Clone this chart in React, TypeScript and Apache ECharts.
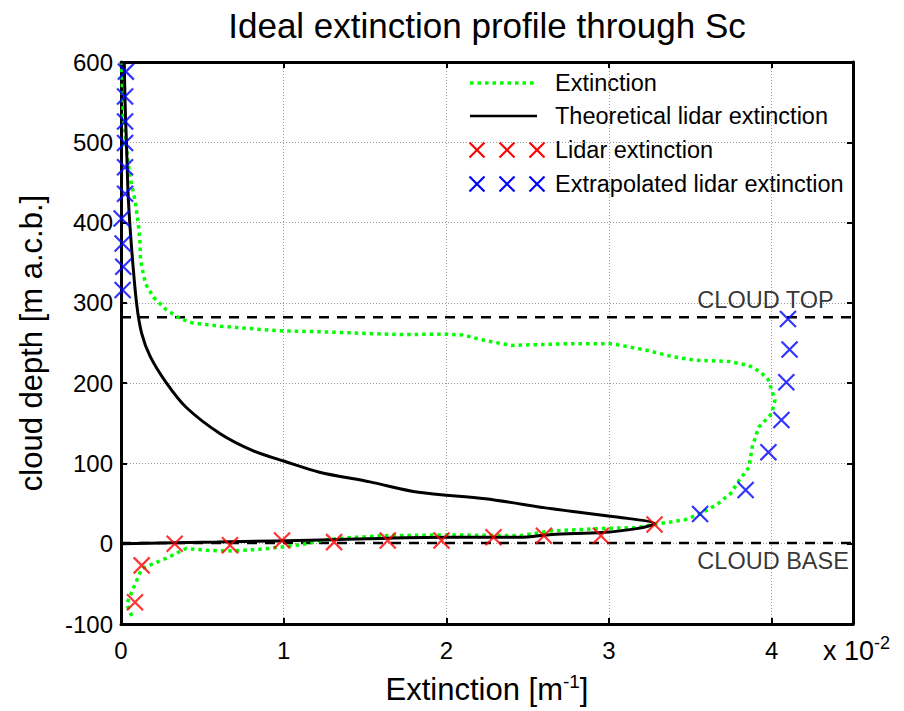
import React, { useEffect, useRef } from 'react';
import * as echarts from 'echarts';

// Extinction profile (x in 1e-2 m^-1, y in m above cloud base)
const extinctionX = [0.066, 0.035, 0.096, 0.127, 0.28, 0.40, 0.55, 0.69, 0.85, 0.99, 1.14, 1.26, 1.40, 1.61, 2.0, 2.45, 2.65, 2.96, 3.17, 3.28, 3.47, 3.57, 3.67, 3.75, 3.80, 3.86, 3.88, 3.92, 4.00, 4.02, 3.98, 3.93, 3.86, 3.74, 3.53, 3.39, 3.23, 3.02, 2.73, 2.40, 2.24, 2.10, 2.0, 1.71, 1.22, 1.0, 0.85, 0.61, 0.44, 0.37, 0.28, 0.20, 0.15, 0.12, 0.117, 0.106, 0.086, 0.055, 0.035, 0.014, 0.004];
const extinctionY = [-90, -75, -46, -31, -18, -6, -8.5, -9, -7, -4, 0, 5, 7.5, 10, 11, 10, 16, 19, 20, 24, 30, 38, 50, 63, 79, 95, 120, 145, 162, 179, 204, 214, 222, 227, 228.5, 233, 241, 249, 249, 247, 253, 260, 261, 260.5, 264, 265, 267, 271, 275, 280, 291, 307, 324, 353, 374, 399, 428, 457, 490, 532, 598];

// Theoretical lidar extinction
const theoryX = [0, 0.59, 1.30, 2.0, 2.45, 2.65, 2.96, 3.16, 3.28, 3.06, 2.65, 2.24, 1.83, 1.53, 1.22, 1.0, 0.81, 0.61, 0.40, 0.28, 0.18, 0.127, 0.096, 0.066, 0.045, 0.035, 0.025, 0.02];
const theoryY = [0, 2, 5, 8, 8, 11.5, 14, 18.5, 25, 33, 43.5, 56, 64, 77, 89, 103, 116, 137, 170, 200, 233, 262, 299, 366, 430, 490, 550, 600];

// Lidar extinction (red crosses)
const lidarX = [0.086, 0.127, 0.33, 0.67, 0.99, 1.31, 1.64, 1.97, 2.29, 2.60, 2.95, 3.28];
const lidarY = [-73, -27, 0, -2, 4, 2, 4, 4, 8, 10, 10, 24];

// Extrapolated lidar extinction (blue crosses)
const extrapX = [3.56, 3.84, 3.98, 4.06, 4.09, 4.11, 4.10, 0.03, 0.025, 0.025, 0.025, 0.025, 0.025, 0.004, 0.01, 0.014, 0.01];
const extrapY = [37, 67, 114, 154, 201, 242, 280, 588, 557, 526, 499, 469, 436, 405, 374, 345, 316];

const cloudTop = 282;
const cloudBase = 1;
const xMin = 0;
const xMax = 4.5;
const yMin = -100;
const yMax = 600;

const legendNames = ['Extinction', 'Theoretical lidar extinction', 'Lidar extinction', 'Extrapolated lidar extinction'];

const FONT = '"Liberation Sans", Arial, Helvetica, sans-serif';
const CROSS = 'path://M0,0L10,10M10,0L0,10';
const GREEN = '#00ff00';

const zip = (xs: number[], ys: number[]) => xs.map((x, i) => [x, ys[i]]);

function crossLines(cx: number, cy: number, color: string) {
  const h = 7.5;
  return [
    { type: 'line', shape: { x1: cx - h, y1: cy - h, x2: cx + h, y2: cy + h }, style: { stroke: color, lineWidth: 2.2 } },
    { type: 'line', shape: { x1: cx - h, y1: cy + h, x2: cx + h, y2: cy - h }, style: { stroke: color, lineWidth: 2.2 } },
  ];
}

export default function App() {
  const ref = useRef<HTMLDivElement>(null);
  useEffect(() => {
    const chart = echarts.init(ref.current as HTMLDivElement, null, { renderer: 'svg' });
    const axisCommon = {
      type: 'value',
      axisLine: { show: true, onZero: false, lineStyle: { color: '#000', width: 3 } },
      axisTick: { show: true, inside: true, length: 6, lineStyle: { color: '#000', width: 2 } },
    };
    const legendX = 470;
    const legendRows = [83, 116, 150, 184];
    const legendGraphics: any[] = [
      { type: 'line', shape: { x1: legendX, y1: legendRows[0], x2: legendX + 67, y2: legendRows[0] }, style: { stroke: GREEN, lineWidth: 3.5, lineDash: [3.5, 4] } },
      { type: 'line', shape: { x1: legendX, y1: legendRows[1], x2: legendX + 67, y2: legendRows[1] }, style: { stroke: '#000', lineWidth: 2.5 } },
      ...crossLines(477, legendRows[2], '#ff0000'),
      ...crossLines(507, legendRows[2], '#ff0000'),
      ...crossLines(537, legendRows[2], '#ff0000'),
      ...crossLines(477, legendRows[3], '#0000ff'),
      ...crossLines(507, legendRows[3], '#0000ff'),
      ...crossLines(537, legendRows[3], '#0000ff'),
      ...legendNames.map((n, i) => ({
        type: 'text', x: 555, y: legendRows[i],
        style: { text: n, fontFamily: FONT, fontSize: 23.5, fill: '#000', align: 'left', verticalAlign: 'middle' },
      })),
    ];
    const option: any = {
      animation: false,
      backgroundColor: '#ffffff',
      grid: { left: 121, right: 51, top: 62, bottom: 87, containLabel: false },
      xAxis: [
        {
          ...axisCommon, min: xMin, max: xMax, interval: 1, position: 'bottom',
          name: 'Extinction [m{sup|-1}]', nameLocation: 'middle', nameGap: 48,
          nameTextStyle: { fontFamily: FONT, fontSize: 31, color: '#000', rich: { sup: { fontFamily: FONT, fontSize: 19, color: '#000', padding: [0, 0, 16, 0] } } },
          axisLabel: { fontFamily: FONT, fontSize: 24, color: '#000', margin: 14, formatter: (v: number) => (Number.isInteger(v) ? String(v) : '') },
          splitLine: { show: true, lineStyle: { color: '#999', width: 1, type: [1, 2] } },
        },
        {
          ...axisCommon, min: xMin, max: xMax, interval: 1, position: 'top',
          axisLabel: { show: false }, splitLine: { show: false },
        },
      ],
      yAxis: [
        {
          ...axisCommon, min: yMin, max: yMax, interval: 100, position: 'left',
          name: 'cloud depth [m a.c.b.]', nameLocation: 'middle', nameGap: 74, nameRotate: 90,
          nameTextStyle: { fontFamily: FONT, fontSize: 31, color: '#000' },
          axisLabel: { fontFamily: FONT, fontSize: 24, color: '#000', margin: 8 },
          splitLine: { show: true, lineStyle: { color: '#999', width: 1, type: [1, 2] } },
        },
        {
          ...axisCommon, min: yMin, max: yMax, interval: 100, position: 'right',
          axisLabel: { show: false }, splitLine: { show: false },
        },
      ],
      graphic: [
        {
          type: 'text', x: 487, y: 25,
          style: { text: 'Ideal extinction profile through Sc', fontFamily: FONT, fontSize: 35, fill: '#000', align: 'center', verticalAlign: 'middle' },
        },
        {
          type: 'text', x: 823, y: 651,
          style: {
            text: '{a|x 10}{b|-2}', align: 'left', verticalAlign: 'middle',
            rich: {
              a: { fontFamily: FONT, fontSize: 27, fill: '#000' },
              b: { fontFamily: FONT, fontSize: 18, fill: '#000', padding: [0, 0, 16, 0] },
            },
          },
        },
        ...legendGraphics,
      ],
      series: [
        {
          name: 'Extinction', type: 'line', data: zip(extinctionX, extinctionY), showSymbol: false, symbol: 'none',
          lineStyle: { color: GREEN, width: 3.5, type: [3.5, 4] }, z: 3,
        },
        {
          name: 'Theoretical lidar extinction', type: 'line', data: zip(theoryX, theoryY), showSymbol: false, symbol: 'none', smooth: 0.3,
          lineStyle: { color: '#000', width: 3 }, z: 4,
        },
        {
          name: 'Lidar extinction', type: 'scatter', data: zip(lidarX, lidarY), symbol: CROSS, symbolSize: 16,
          itemStyle: { color: '#ff0000', borderColor: '#ff0000', borderWidth: 2.2 }, z: 5,
        },
        {
          name: 'Extrapolated lidar extinction', type: 'scatter', data: zip(extrapX, extrapY), symbol: CROSS, symbolSize: 16,
          itemStyle: { color: '#0000ff', borderColor: '#0000ff', borderWidth: 2.2 }, z: 5,
        },
        {
          name: 'cloud top', type: 'line', data: [[xMin, cloudTop], [xMax, cloudTop]], symbol: 'none', silent: true,
          lineStyle: { color: '#000', width: 2.5, type: [10, 8] }, z: 2,
        },
        {
          name: 'cloud base', type: 'line', data: [[xMin, cloudBase], [xMax, cloudBase]], symbol: 'none', silent: true,
          lineStyle: { color: '#000', width: 2.5, type: [10, 8] }, z: 2,
        },
        {
          name: 'labels', type: 'scatter', symbolSize: 1, silent: true,
          itemStyle: { color: 'rgba(0,0,0,0)' },
          data: [
            { value: [3.54, cloudTop + 22], name: 'CLOUD TOP' },
            { value: [3.54, cloudBase - 22], name: 'CLOUD BASE' },
          ],
          label: { show: true, position: 'right', distance: 0, formatter: '{b}', fontFamily: FONT, fontSize: 23.5, color: '#000' },
        },
      ],
    };
    chart.setOption(option);
    return () => chart.dispose();
  }, []);
  return <div ref={ref} style={{ position: 'fixed', left: 0, top: 0, width: 904, height: 711, background: '#fff' }} />;
}
